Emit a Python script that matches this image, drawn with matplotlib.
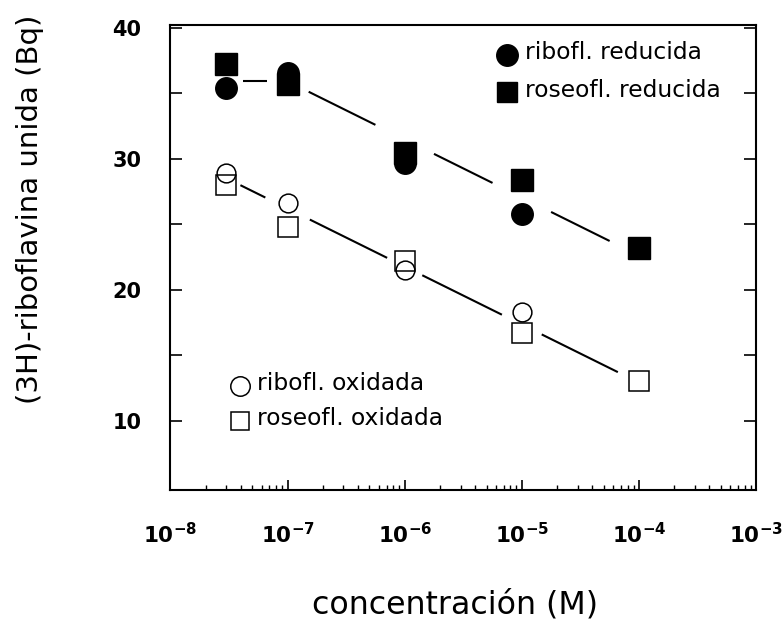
import numpy as np
import matplotlib
matplotlib.use("Agg")
import matplotlib.pyplot as plt
from matplotlib.ticker import FixedLocator, FixedFormatter, LogLocator, NullFormatter

# concentrations (M)
conc = [3e-8, 1e-7, 1e-6, 1e-5, 1e-4]

# bound (3H)-riboflavin (Bq)
ribo_red = [35.4, 36.5, 29.7, 25.8]          # ribofl. reducida
roseo_red = [37.2, 35.7, 30.4, 28.4, 23.2]   # roseofl. reducida
ribo_ox = [28.9, 26.6, 21.5, 18.3]           # ribofl. oxidada
roseo_ox = [28.0, 24.8, 22.2, 16.7, 13.0]    # roseofl. oxidada

# trend lines (vertices in concentration / Bq)
upper_x = [3e-8, 1e-7, 1e-4]
upper_y = [35.9, 35.9, 22.6]
lower_x = [3e-8, 1e-4]
lower_y = [28.5, 12.9]

yticks = [10, 15, 20, 25, 30, 35, 40]
ytick_labels = ["10", "", "20", "", "30", "", "40"]
xticks = [1e-8, 1e-7, 1e-6, 1e-5, 1e-4, 1e-3]
xtick_labels = [r"$\mathbf{10^{-8}}$", r"$\mathbf{10^{-7}}$", r"$\mathbf{10^{-6}}$",
                r"$\mathbf{10^{-5}}$", r"$\mathbf{10^{-4}}$", r"$\mathbf{10^{-3}}$"]

fig = plt.figure(figsize=(7.82, 6.26), dpi=100)
ax = fig.add_axes([0.218, 0.2173, 0.7488, 0.7428])
ax.set_xscale("log")
ax.set_xlim(1e-8, 1e-3)
ax.set_ylim(4.7, 40.2)


def broken_line(xv, yv, gaps):
    """Draw a trend line in pieces, leaving a gap around each concentration."""
    lx = np.log10(xv)
    lc = np.log10(conc)
    for i in range(len(conc) - 1):
        a = lc[i] + gaps[i]
        b = lc[i + 1] - gaps[i + 1]
        seg = np.linspace(a, b, 20)
        ax.plot(10 ** seg, np.interp(seg, lx, yv), color="black", lw=1.5,
                solid_capstyle="butt", zorder=2)


broken_line(upper_x, upper_y, [0.14, 0.18, 0.25, 0.25, 0.25])
broken_line(lower_x, lower_y, [0.12, 0.19, 0.15, 0.17, 0.18])

ax.plot(conc[:4], ribo_red, "o", color="black", ms=15.5, mec="black", zorder=3)
ax.plot(conc, roseo_red, "s", color="black", ms=16.5, mec="black", zorder=3)
ax.plot(conc[:4], ribo_ox, "o", mfc="none", mec="black", ms=13.5, mew=1.1, zorder=3)
ax.plot(conc, roseo_ox, "s", mfc="none", mec="black", ms=14.5, mew=1.1, zorder=3)

# legend keys and labels
txt_kw = dict(transform=ax.transAxes, fontsize=16.8, va="center", ha="left",
              family="DejaVu Sans")
ax.plot([0.575], [0.936], "o", color="black", ms=15.5, transform=ax.transAxes, clip_on=False)
ax.text(0.606, 0.940, "ribofl. reducida", **txt_kw)
ax.plot([0.575], [0.856], "s", color="black", ms=15, transform=ax.transAxes, clip_on=False)
ax.text(0.606, 0.860, "roseofl. reducida", **txt_kw)
ax.plot([0.118], [0.224], "o", mfc="none", mec="black", ms=14, mew=1.1, transform=ax.transAxes)
ax.text(0.147, 0.228, "ribofl. oxidada", **txt_kw)
ax.plot([0.118], [0.149], "s", mfc="none", mec="black", ms=13.5, mew=1.1, transform=ax.transAxes)
ax.text(0.147, 0.153, "roseofl. oxidada", **txt_kw)

# axes styling
for s in ax.spines.values():
    s.set_linewidth(1.5)
ax.yaxis.set_major_locator(FixedLocator(yticks))
ax.yaxis.set_major_formatter(FixedFormatter(ytick_labels))
ax.xaxis.set_major_locator(FixedLocator(xticks))
ax.xaxis.set_major_formatter(FixedFormatter(xtick_labels))
ax.xaxis.set_minor_locator(LogLocator(base=10, subs=np.arange(2, 10)))
ax.xaxis.set_minor_formatter(NullFormatter())
ax.tick_params(axis="y", which="major", direction="in", length=8.5, width=1.2,
               left=True, right=True, pad=21, labelsize=15)
ax.tick_params(axis="x", which="major", direction="in", length=7, width=1.2,
               top=False, pad=23, labelsize=15.5)
ax.tick_params(axis="x", which="minor", direction="in", length=3.5, width=1.0, top=False)
for lab in ax.get_yticklabels():
    lab.set_fontweight("bold")

fig.text(0.038, 0.665, "(3H)-riboflavina unida (Bq)", rotation=90, fontsize=21,
         ha="center", va="center", family="DejaVu Sans")
fig.text(0.582, 0.034, "concentración (M)", fontsize=22.8, ha="center", va="center",
         family="DejaVu Sans")

fig.savefig("out.png", dpi=100)
